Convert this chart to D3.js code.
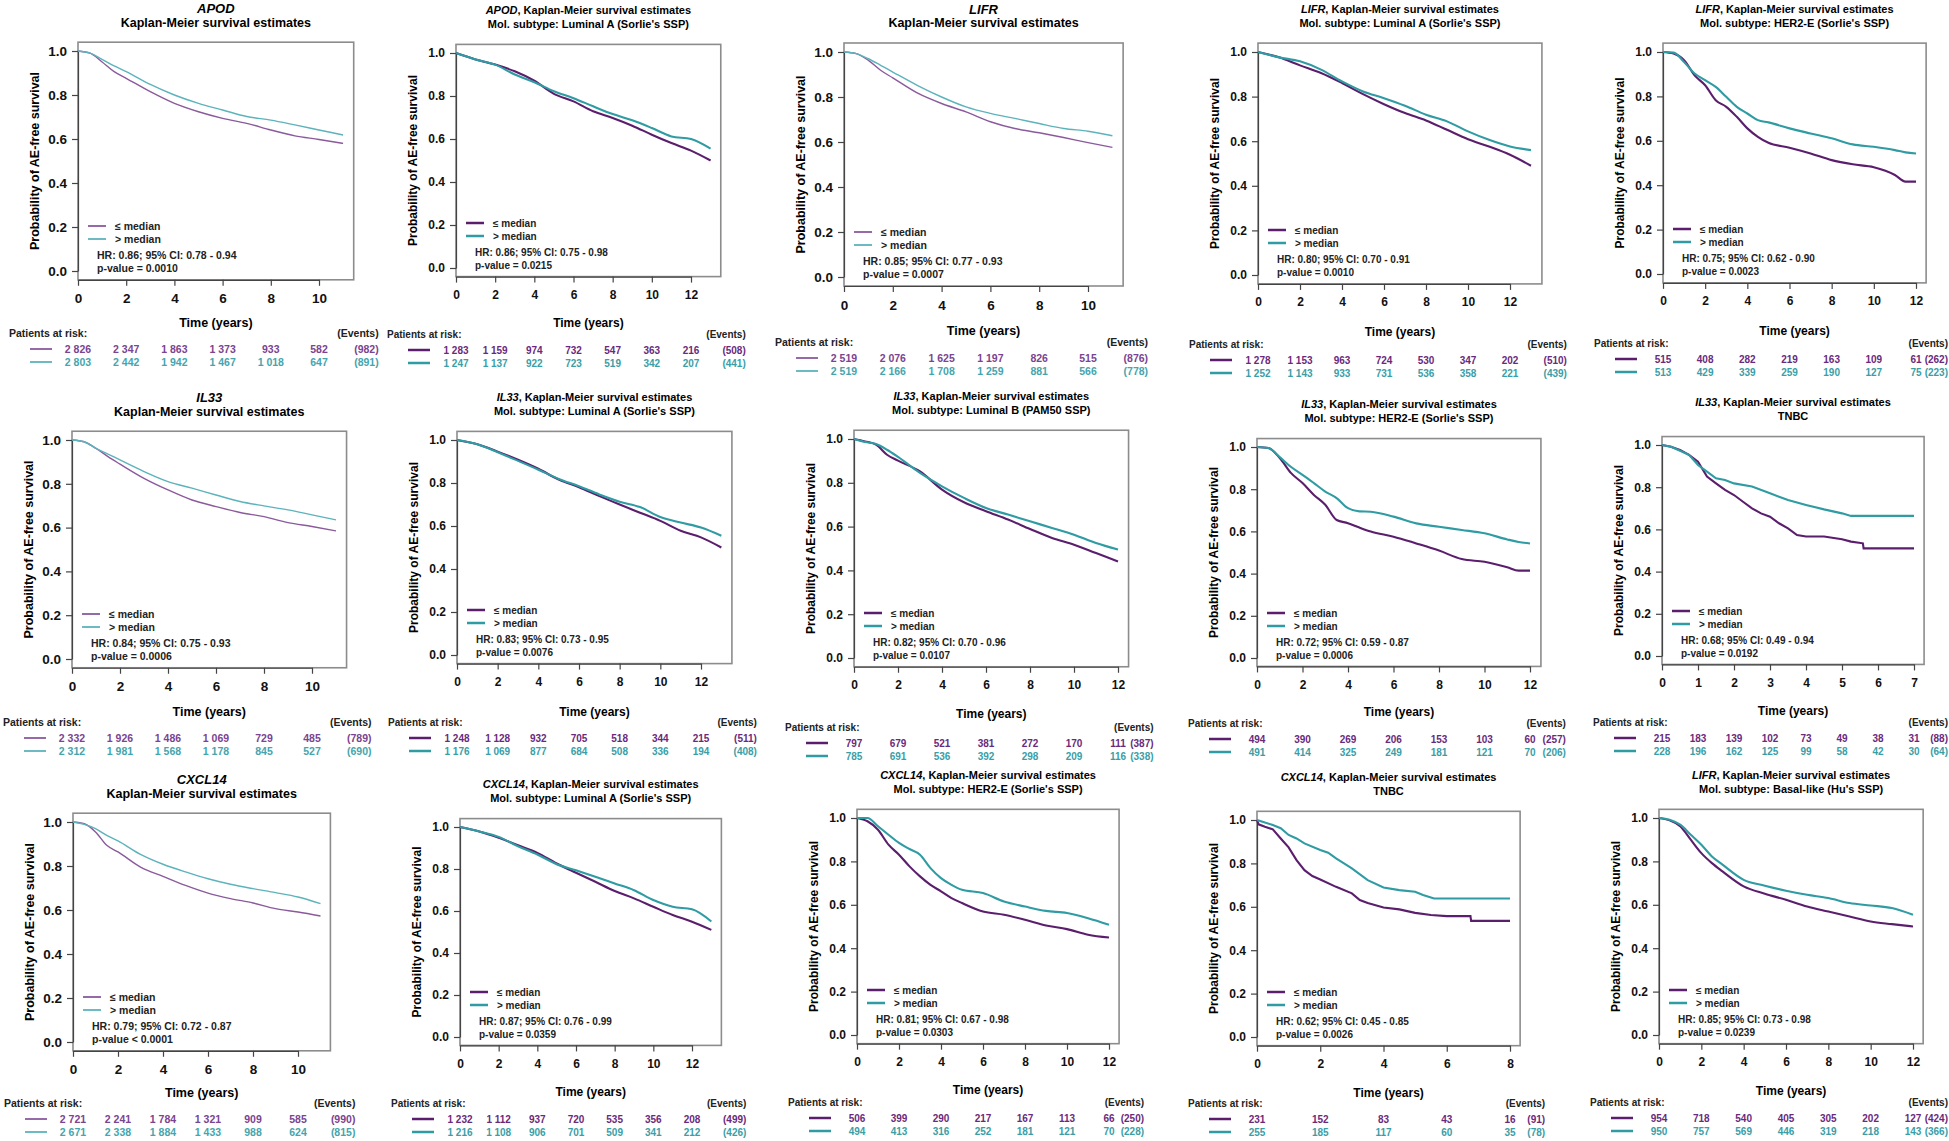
<!DOCTYPE html>
<html>
<head>
<meta charset="utf-8">
<script src="https://cdn.jsdelivr.net/npm/d3@7"></script>
<style>
  body { margin: 0; background: #fff; }
  svg { display: block; }
</style>
</head>
<body>
<script>
// -------------------- DATA --------------------
// survival curves: time (years), <= median (lo), > median (hi)
var apodAllT  = [0, 0.5, 1, 1.5, 2, 3, 4, 5, 6, 7, 8, 9, 10, 11];
var apodAllLo = [1, 0.99, 0.95, 0.906, 0.876, 0.815, 0.762, 0.724, 0.694, 0.671, 0.641, 0.614, 0.598, 0.58];
var apodAllHi = [1, 0.99, 0.962, 0.932, 0.906, 0.848, 0.8, 0.762, 0.732, 0.702, 0.686, 0.664, 0.641, 0.618];

var apodLumAT  = [0, 1, 2, 3, 4, 5, 6, 7, 8, 9, 10, 11, 12, 13];
var apodLumALo = [1, 0.97, 0.946, 0.915, 0.871, 0.81, 0.775, 0.729, 0.698, 0.662, 0.62, 0.581, 0.546, 0.5];
var apodLumAHi = [1, 0.97, 0.946, 0.9, 0.864, 0.822, 0.79, 0.752, 0.716, 0.687, 0.651, 0.612, 0.6, 0.555];

var lifrAllT  = [0, 0.5, 1, 1.5, 2, 3, 4, 5, 6, 7, 8, 9, 10, 11];
var lifrAllLo = [1, 0.993, 0.963, 0.919, 0.885, 0.818, 0.771, 0.734, 0.69, 0.66, 0.641, 0.62, 0.597, 0.576];
var lifrAllHi = [1, 0.993, 0.97, 0.941, 0.911, 0.852, 0.8, 0.756, 0.727, 0.705, 0.682, 0.66, 0.648, 0.628];

var lifrLumAT  = [0, 1, 2, 3, 4, 5, 6, 7, 8, 9, 10, 11, 12, 13];
var lifrLumALo = [1, 0.976, 0.94, 0.906, 0.861, 0.811, 0.766, 0.726, 0.693, 0.651, 0.609, 0.576, 0.539, 0.49];
var lifrLumAHi = [1, 0.976, 0.958, 0.921, 0.868, 0.823, 0.793, 0.759, 0.719, 0.689, 0.644, 0.606, 0.576, 0.56];

var lifrHer2T  = [0, 0.5, 1, 1.5, 2, 2.5, 3, 3.5, 4, 4.5, 5, 6, 7, 8, 9, 10, 11, 11.5, 12];
var lifrHer2Lo = [1, 0.993, 0.963, 0.895, 0.85, 0.783, 0.753, 0.708, 0.656, 0.618, 0.591, 0.569, 0.543, 0.513, 0.494, 0.481, 0.446, 0.416, 0.416];
var lifrHer2Hi = [1, 0.997, 0.955, 0.903, 0.873, 0.843, 0.798, 0.753, 0.723, 0.693, 0.683, 0.656, 0.633, 0.611, 0.584, 0.573, 0.558, 0.548, 0.543];

var il33AllT  = [0, 0.5, 1, 1.5, 2, 3, 4, 5, 6, 7, 8, 9, 10, 11];
var il33AllLo = [1, 0.992, 0.962, 0.924, 0.89, 0.825, 0.772, 0.726, 0.696, 0.669, 0.65, 0.623, 0.605, 0.585];
var il33AllHi = [1, 0.992, 0.962, 0.936, 0.909, 0.856, 0.81, 0.78, 0.749, 0.719, 0.699, 0.681, 0.658, 0.635];

var il33LumAT  = [0, 1, 2, 3, 4, 5, 6, 7, 8, 9, 10, 11, 12, 13];
var il33LumALo = [1, 0.98, 0.946, 0.908, 0.866, 0.816, 0.78, 0.739, 0.7, 0.662, 0.624, 0.578, 0.547, 0.5];
var il33LumAHi = [1, 0.98, 0.943, 0.903, 0.862, 0.819, 0.785, 0.747, 0.713, 0.688, 0.642, 0.616, 0.593, 0.555];

var il33LumBT  = [0, 0.5, 1, 1.5, 2, 3, 4, 5, 6, 7, 8, 9, 10, 11, 12];
var il33LumBLo = [1, 0.989, 0.974, 0.928, 0.901, 0.852, 0.769, 0.711, 0.67, 0.632, 0.589, 0.548, 0.517, 0.479, 0.441];
var il33LumBHi = [1, 0.986, 0.977, 0.951, 0.918, 0.845, 0.784, 0.731, 0.685, 0.655, 0.624, 0.594, 0.563, 0.525, 0.495];

var il33Her2T  = [0, 0.5, 1, 1.5, 2, 2.5, 3, 3.5, 4, 4.5, 5, 6, 7, 8, 9, 10, 11, 11.5, 12];
var il33Her2Lo = [1, 0.995, 0.948, 0.876, 0.829, 0.773, 0.726, 0.654, 0.639, 0.618, 0.599, 0.575, 0.543, 0.509, 0.469, 0.456, 0.43, 0.414, 0.414];
var il33Her2Hi = [1, 0.995, 0.952, 0.905, 0.868, 0.829, 0.789, 0.758, 0.71, 0.695, 0.693, 0.67, 0.638, 0.622, 0.607, 0.591, 0.562, 0.55, 0.543];

var il33TnbcLoT = [0, 0.25, 0.5, 0.75, 1, 1.25, 1.5, 1.75, 2, 2.25, 2.5, 2.75, 3, 3.25, 3.5, 3.75, 4, 4.5, 5, 5.25, 5.58, 5.6, 7];
var il33TnbcLo  = [1, 0.992, 0.976, 0.953, 0.921, 0.85, 0.818, 0.787, 0.763, 0.731, 0.7, 0.676, 0.66, 0.629, 0.605, 0.573, 0.566, 0.566, 0.553, 0.542, 0.534, 0.51, 0.51];
var il33TnbcHiT = [0, 0.25, 0.5, 0.75, 1, 1.25, 1.5, 1.75, 2, 2.5, 3, 3.5, 4, 4.5, 5, 5.25, 7];
var il33TnbcHi  = [1, 0.992, 0.973, 0.953, 0.905, 0.874, 0.842, 0.834, 0.818, 0.803, 0.771, 0.739, 0.716, 0.695, 0.676, 0.664, 0.664];

var cxclAllT  = [0, 0.5, 1, 1.5, 2, 3, 4, 5, 6, 7, 8, 9, 10, 11];
var cxclAllLo = [1, 0.992, 0.955, 0.894, 0.864, 0.795, 0.753, 0.712, 0.677, 0.652, 0.632, 0.606, 0.591, 0.573];
var cxclAllHi = [1, 0.989, 0.97, 0.939, 0.914, 0.853, 0.808, 0.773, 0.742, 0.717, 0.697, 0.679, 0.659, 0.629];

var cxclLumAT  = [0, 1, 2, 3, 4, 5, 6, 7, 8, 9, 10, 11, 12, 13];
var cxclLumALo = [1, 0.979, 0.949, 0.913, 0.877, 0.826, 0.782, 0.739, 0.695, 0.66, 0.62, 0.581, 0.549, 0.51];
var cxclLumAHi = [1, 0.979, 0.953, 0.908, 0.869, 0.823, 0.794, 0.763, 0.731, 0.699, 0.652, 0.62, 0.608, 0.55];

var cxclHer2T  = [0, 0.5, 1, 1.5, 2, 2.5, 3, 3.5, 4, 4.5, 5, 6, 7, 8, 9, 10, 11, 12];
var cxclHer2Lo = [1, 0.985, 0.946, 0.877, 0.831, 0.777, 0.731, 0.692, 0.662, 0.631, 0.608, 0.569, 0.554, 0.531, 0.505, 0.488, 0.462, 0.449];
var cxclHer2Hi = [1, 1, 0.962, 0.923, 0.885, 0.857, 0.831, 0.769, 0.723, 0.692, 0.669, 0.654, 0.615, 0.592, 0.572, 0.562, 0.538, 0.508];

var cxclTnbcLoT = [0, 0.05, 0.25, 0.5, 0.75, 1, 1.25, 1.5, 1.75, 2, 2.5, 3, 3.25, 3.5, 4, 4.5, 5, 5.5, 6, 6.75, 6.77, 8];
var cxclTnbcLo  = [1, 0.98, 0.969, 0.957, 0.915, 0.874, 0.815, 0.769, 0.742, 0.726, 0.692, 0.662, 0.631, 0.618, 0.597, 0.588, 0.572, 0.562, 0.557, 0.557, 0.535, 0.535];
var cxclTnbcHiT = [0, 0.25, 0.5, 0.75, 1, 1.25, 1.5, 2, 2.25, 2.5, 3, 3.5, 4, 4.5, 5, 5.25, 5.6, 8];
var cxclTnbcHi  = [1, 0.988, 0.977, 0.962, 0.931, 0.915, 0.892, 0.862, 0.849, 0.823, 0.777, 0.723, 0.689, 0.677, 0.669, 0.654, 0.638, 0.638];

var lifrBasalT  = [0, 0.5, 1, 1.5, 2, 2.5, 3, 4, 5, 6, 7, 8, 9, 10, 11, 12];
var lifrBasalLo = [1, 0.989, 0.962, 0.9, 0.838, 0.792, 0.754, 0.685, 0.651, 0.623, 0.592, 0.569, 0.546, 0.523, 0.511, 0.5];
var lifrBasalHi = [1, 0.992, 0.969, 0.923, 0.877, 0.823, 0.785, 0.715, 0.688, 0.665, 0.646, 0.631, 0.608, 0.597, 0.585, 0.554];

// patients at risk (at each x tick) and events
var apodAllRiskLo = [2826, 2347, 1863, 1373, 933, 582],  apodAllRiskHi = [2803, 2442, 1942, 1467, 1018, 647];
var apodAllEv = [982, 891];
var apodLumARiskLo = [1283, 1159, 974, 732, 547, 363, 216], apodLumARiskHi = [1247, 1137, 922, 723, 519, 342, 207];
var apodLumAEv = [508, 441];
var lifrAllRiskLo = [2519, 2076, 1625, 1197, 826, 515], lifrAllRiskHi = [2519, 2166, 1708, 1259, 881, 566];
var lifrAllEv = [876, 778];
var lifrLumARiskLo = [1278, 1153, 963, 724, 530, 347, 202], lifrLumARiskHi = [1252, 1143, 933, 731, 536, 358, 221];
var lifrLumAEv = [510, 439];
var lifrHer2RiskLo = [515, 408, 282, 219, 163, 109, 61], lifrHer2RiskHi = [513, 429, 339, 259, 190, 127, 75];
var lifrHer2Ev = [262, 223];
var il33AllRiskLo = [2332, 1926, 1486, 1069, 729, 485], il33AllRiskHi = [2312, 1981, 1568, 1178, 845, 527];
var il33AllEv = [789, 690];
var il33LumARiskLo = [1248, 1128, 932, 705, 518, 344, 215], il33LumARiskHi = [1176, 1069, 877, 684, 508, 336, 194];
var il33LumAEv = [511, 408];
var il33LumBRiskLo = [797, 679, 521, 381, 272, 170, 111], il33LumBRiskHi = [785, 691, 536, 392, 298, 209, 116];
var il33LumBEv = [387, 338];
var il33Her2RiskLo = [494, 390, 269, 206, 153, 103, 60], il33Her2RiskHi = [491, 414, 325, 249, 181, 121, 70];
var il33Her2Ev = [257, 206];
var il33TnbcRiskLo = [215, 183, 139, 102, 73, 49, 38, 31], il33TnbcRiskHi = [228, 196, 162, 125, 99, 58, 42, 30];
var il33TnbcEv = [88, 64];
var cxclAllRiskLo = [2721, 2241, 1784, 1321, 909, 585], cxclAllRiskHi = [2671, 2338, 1884, 1433, 988, 624];
var cxclAllEv = [990, 815];
var cxclLumARiskLo = [1232, 1112, 937, 720, 535, 356, 208], cxclLumARiskHi = [1216, 1108, 906, 701, 509, 341, 212];
var cxclLumAEv = [499, 426];
var cxclHer2RiskLo = [506, 399, 290, 217, 167, 113, 66], cxclHer2RiskHi = [494, 413, 316, 252, 181, 121, 70];
var cxclHer2Ev = [250, 228];
var cxclTnbcRiskLo = [231, 152, 83, 43, 16], cxclTnbcRiskHi = [255, 185, 117, 60, 35];
var cxclTnbcEv = [91, 78];
var lifrBasalRiskLo = [954, 718, 540, 405, 305, 202, 127], lifrBasalRiskHi = [950, 757, 569, 446, 319, 218, 143];
var lifrBasalEv = [424, 366];

// titles and statistics
var genes = ["APOD", "APOD", "LIFR", "LIFR", "LIFR",
             "IL33", "IL33", "IL33", "IL33", "IL33",
             "CXCL14", "CXCL14", "CXCL14", "CXCL14", "LIFR"];
var subtypes = [null, "Mol. subtype: Luminal A (Sorlie's SSP)", null,
                "Mol. subtype: Luminal A (Sorlie's SSP)", "Mol. subtype: HER2-E (Sorlie's SSP)",
                null, "Mol. subtype: Luminal A (Sorlie's SSP)", "Mol. subtype: Luminal B (PAM50 SSP)",
                "Mol. subtype: HER2-E (Sorlie's SSP)", "TNBC",
                null, "Mol. subtype: Luminal A (Sorlie's SSP)", "Mol. subtype: HER2-E (Sorlie's SSP)",
                "TNBC", "Mol. subtype: Basal-like (Hu's SSP)"];
var hrTexts = ["HR: 0.86; 95% CI: 0.78 - 0.94", "HR: 0.86; 95% CI: 0.75 - 0.98", "HR: 0.85; 95% CI: 0.77 - 0.93",
               "HR: 0.80; 95% CI: 0.70 - 0.91", "HR: 0.75; 95% CI: 0.62 - 0.90",
               "HR: 0.84; 95% CI: 0.75 - 0.93", "HR: 0.83; 95% CI: 0.73 - 0.95", "HR: 0.82; 95% CI: 0.70 - 0.96",
               "HR: 0.72; 95% CI: 0.59 - 0.87", "HR: 0.68; 95% CI: 0.49 - 0.94",
               "HR: 0.79; 95% CI: 0.72 - 0.87", "HR: 0.87; 95% CI: 0.76 - 0.99", "HR: 0.81; 95% CI: 0.67 - 0.98",
               "HR: 0.62; 95% CI: 0.45 - 0.85", "HR: 0.85; 95% CI: 0.73 - 0.98"];
var pTexts = ["p-value = 0.0010", "p-value = 0.0215", "p-value = 0.0007", "p-value = 0.0010", "p-value = 0.0023",
              "p-value = 0.0006", "p-value = 0.0076", "p-value = 0.0107", "p-value = 0.0006", "p-value = 0.0192",
              "p-value < 0.0001", "p-value = 0.0359", "p-value = 0.0303", "p-value = 0.0026", "p-value = 0.0239"];
var legendLabels = ["\u2264 median", "> median"];

// -------------------- PANELS (data per panel) --------------------
function pairs(t, v) { return t.map(function(d, i) { return [d, v[i]]; }); }

var panels = [
  { lo: pairs(apodAllT, apodAllLo),   hi: pairs(apodAllT, apodAllHi),   rLo: apodAllRiskLo,   rHi: apodAllRiskHi,   ev: apodAllEv },
  { lo: pairs(apodLumAT, apodLumALo), hi: pairs(apodLumAT, apodLumAHi), rLo: apodLumARiskLo,  rHi: apodLumARiskHi,  ev: apodLumAEv },
  { lo: pairs(lifrAllT, lifrAllLo),   hi: pairs(lifrAllT, lifrAllHi),   rLo: lifrAllRiskLo,   rHi: lifrAllRiskHi,   ev: lifrAllEv },
  { lo: pairs(lifrLumAT, lifrLumALo), hi: pairs(lifrLumAT, lifrLumAHi), rLo: lifrLumARiskLo,  rHi: lifrLumARiskHi,  ev: lifrLumAEv },
  { lo: pairs(lifrHer2T, lifrHer2Lo), hi: pairs(lifrHer2T, lifrHer2Hi), rLo: lifrHer2RiskLo,  rHi: lifrHer2RiskHi,  ev: lifrHer2Ev },
  { lo: pairs(il33AllT, il33AllLo),   hi: pairs(il33AllT, il33AllHi),   rLo: il33AllRiskLo,   rHi: il33AllRiskHi,   ev: il33AllEv },
  { lo: pairs(il33LumAT, il33LumALo), hi: pairs(il33LumAT, il33LumAHi), rLo: il33LumARiskLo,  rHi: il33LumARiskHi,  ev: il33LumAEv },
  { lo: pairs(il33LumBT, il33LumBLo), hi: pairs(il33LumBT, il33LumBHi), rLo: il33LumBRiskLo,  rHi: il33LumBRiskHi,  ev: il33LumBEv },
  { lo: pairs(il33Her2T, il33Her2Lo), hi: pairs(il33Her2T, il33Her2Hi), rLo: il33Her2RiskLo,  rHi: il33Her2RiskHi,  ev: il33Her2Ev },
  { lo: pairs(il33TnbcLoT, il33TnbcLo), hi: pairs(il33TnbcHiT, il33TnbcHi), rLo: il33TnbcRiskLo, rHi: il33TnbcRiskHi, ev: il33TnbcEv },
  { lo: pairs(cxclAllT, cxclAllLo),   hi: pairs(cxclAllT, cxclAllHi),   rLo: cxclAllRiskLo,   rHi: cxclAllRiskHi,   ev: cxclAllEv },
  { lo: pairs(cxclLumAT, cxclLumALo), hi: pairs(cxclLumAT, cxclLumAHi), rLo: cxclLumARiskLo,  rHi: cxclLumARiskHi,  ev: cxclLumAEv },
  { lo: pairs(cxclHer2T, cxclHer2Lo), hi: pairs(cxclHer2T, cxclHer2Hi), rLo: cxclHer2RiskLo,  rHi: cxclHer2RiskHi,  ev: cxclHer2Ev },
  { lo: pairs(cxclTnbcLoT, cxclTnbcLo), hi: pairs(cxclTnbcHiT, cxclTnbcHi), rLo: cxclTnbcRiskLo, rHi: cxclTnbcRiskHi, ev: cxclTnbcEv },
  { lo: pairs(lifrBasalT, lifrBasalLo), hi: pairs(lifrBasalT, lifrBasalHi), rLo: lifrBasalRiskLo, rHi: lifrBasalRiskHi, ev: lifrBasalEv }
];

// -------------------- LAYOUT (pixel frame of each panel) --------------------
// x0: pixel of t=0, tickMax/tickPx: last tick and its pixel, y1/y0: pixels of 1.0 and 0.0
var frames = [
  { x0: 78,   tickMax: 10, tickPx: 319,  y1: 51,  y0: 271,  tEnd: 11, step: 2, labY: 323,  riskY: 333 },
  { x0: 456,  tickMax: 12, tickPx: 691,  y1: 53,  y0: 268,  tEnd: 13, step: 2, labY: 323,  riskY: 334 },
  { x0: 844,  tickMax: 10, tickPx: 1088, y1: 52,  y0: 277,  tEnd: 11, step: 2, labY: 331,  riskY: 342 },
  { x0: 1258, tickMax: 12, tickPx: 1510, y1: 52,  y0: 275,  tEnd: 13, step: 2, labY: 332,  riskY: 344 },
  { x0: 1663, tickMax: 12, tickPx: 1916, y1: 52,  y0: 274,  tEnd: 12, step: 2, labY: 331,  riskY: 343 },
  { x0: 72,   tickMax: 10, tickPx: 312,  y1: 440, y0: 659,  tEnd: 11, step: 2, labY: 712,  riskY: 722 },
  { x0: 457,  tickMax: 12, tickPx: 701,  y1: 440, y0: 655,  tEnd: 13, step: 2, labY: 712,  riskY: 722 },
  { x0: 854,  tickMax: 12, tickPx: 1118, y1: 439, y0: 658,  tEnd: 12, step: 2, labY: 714,  riskY: 727 },
  { x0: 1257, tickMax: 12, tickPx: 1530, y1: 447, y0: 658,  tEnd: 12, step: 2, labY: 712,  riskY: 723 },
  { x0: 1662, tickMax: 7,  tickPx: 1914, y1: 445, y0: 656,  tEnd: 7,  step: 1, labY: 711,  riskY: 722 },
  { x0: 73,   tickMax: 10, tickPx: 298,  y1: 822, y0: 1042, tEnd: 11, step: 2, labY: 1093, riskY: 1103 },
  { x0: 460,  tickMax: 12, tickPx: 692,  y1: 827, y0: 1037, tEnd: 13, step: 2, labY: 1092, riskY: 1103 },
  { x0: 857,  tickMax: 12, tickPx: 1109, y1: 818, y0: 1035, tEnd: 12, step: 2, labY: 1090, riskY: 1102 },
  { x0: 1257, tickMax: 8,  tickPx: 1510, y1: 820, y0: 1037, tEnd: 8,  step: 2, labY: 1093, riskY: 1103 },
  { x0: 1659, tickMax: 12, tickPx: 1913, y1: 818, y0: 1035, tEnd: 12, step: 2, labY: 1091, riskY: 1102 }
];

// two looks: the pooled "overall" plots and the subtype plots
var styles = {
  overall: { lo: "#8a5a9c", hi: "#5db3bb", tLo: "#7a4490", tHi: "#45a5ae", lw: 1.4,
             title: 13, title2: 12.5, tick: 13.5, axis: 12.5, small: 10.5 },
  subtype: { lo: "#5a1e6c", hi: "#2f9ba3", tLo: "#6a2a7c", tHi: "#3a9ea7", lw: 2.1,
             title: 11, title2: 11, tick: 12, axis: 12, small: 10 }
};

var FONT = "'Liberation Sans', Arial, sans-serif";
var W = 1949, H = 1141;

var svg = d3.select("body").append("svg")
  .attr("width", W).attr("height", H)
  .attr("font-family", FONT).attr("font-weight", "bold");

function fmt(n) { return d3.format(",")(n).replace(/,/g, " "); }

function drawPanel(p, f, i) {
  var st = subtypes[i] ? styles.subtype : styles.overall;
  var x = d3.scaleLinear().domain([0, f.tickMax]).range([f.x0, f.tickPx]);
  var y = d3.scaleLinear().domain([0, 1]).range([f.y0, f.y1]);
  var L = x(0), R = x(f.tEnd * 1.04), T = y(1.04), B = y(-0.04);
  var evX = Math.min(R + 25, W - 1);
  var g = svg.append("g");

  // title
  var cx = (L + R) / 2;
  var t1 = g.append("text").attr("x", cx).attr("y", T - 34).attr("text-anchor", "middle")
    .attr("dy", "0.35em").attr("font-size", st.title);
  t1.append("tspan").attr("font-style", "italic").text(genes[i]);
  if (subtypes[i]) {
    t1.append("tspan").text(", Kaplan-Meier survival estimates");
    g.append("text").attr("x", cx).attr("y", T - 20).attr("dy", "0.35em")
      .attr("text-anchor", "middle").attr("font-size", st.title2).text(subtypes[i]);
  } else {
    g.append("text").attr("x", cx).attr("y", T - 20).attr("dy", "0.35em")
      .attr("text-anchor", "middle").attr("font-size", st.title2).text("Kaplan-Meier survival estimates");
  }

  // frame
  g.append("rect").attr("x", L).attr("y", T).attr("width", R - L).attr("height", B - T)
    .attr("fill", "none").attr("stroke", "#8c8c8c").attr("stroke-width", 1.6);

  // axes
  var xa = g.append("g").attr("transform", "translate(0," + B + ")")
    .call(d3.axisBottom(x).tickValues(d3.range(0, f.tickMax + 0.001, f.step))
      .tickFormat(d3.format("d")).tickSize(6).tickSizeOuter(0).tickPadding(8));
  var ya = g.append("g").attr("transform", "translate(" + L + ",0)")
    .call(d3.axisLeft(y).tickValues([0, 0.2, 0.4, 0.6, 0.8, 1])
      .tickFormat(d3.format(".1f")).tickSize(6).tickSizeOuter(0).tickPadding(5));
  [xa, ya].forEach(function(a) {
    a.attr("font-family", FONT).attr("font-weight", "bold").attr("font-size", st.tick);
    a.selectAll("path, line").attr("stroke", "#444").attr("stroke-width", 1.2);
    a.selectAll("text").attr("fill", "#111");
  });

  // axis titles
  g.append("text").attr("x", cx).attr("y", f.labY).attr("dy", "0.35em")
    .attr("text-anchor", "middle").attr("font-size", st.axis).text("Time (years)");
  g.append("text").attr("transform", "translate(" + (L - 43) + "," + ((f.y0 + f.y1) / 2) + ") rotate(-90)")
    .attr("dy", "0.35em").attr("text-anchor", "middle").attr("font-size", st.axis)
    .text("Probability of AE-free survival");

  // curves
  var smooth = f.tickMax > 8 ? d3.curveMonotoneX : d3.curveLinear;
  var line = d3.line().x(function(d) { return x(d[0]); }).y(function(d) { return y(d[1]); }).curve(smooth);
  g.append("path").attr("d", line(p.lo)).attr("fill", "none").attr("stroke", st.lo).attr("stroke-width", st.lw);
  g.append("path").attr("d", line(p.hi)).attr("fill", "none").attr("stroke", st.hi).attr("stroke-width", st.lw);

  // legend + statistics
  [st.lo, st.hi].forEach(function(c, k) {
    var ly = f.y0 - 45 + k * 13;
    g.append("line").attr("x1", L + 10).attr("x2", L + 28).attr("y1", ly).attr("y2", ly)
      .attr("stroke", c).attr("stroke-width", st.lw + 0.4);
    g.append("text").attr("x", L + 37).attr("y", ly).attr("dy", "0.35em")
      .attr("font-size", st.small).attr("fill", "#222").text(legendLabels[k]);
  });
  g.append("text").attr("x", L + 19).attr("y", f.y0 - 16).attr("dy", "0.35em")
    .attr("font-size", st.small).attr("fill", "#222").text(hrTexts[i]);
  g.append("text").attr("x", L + 19).attr("y", f.y0 - 3).attr("dy", "0.35em")
    .attr("font-size", st.small).attr("fill", "#222").text(pTexts[i]);

  // patients at risk
  var ticks = d3.range(0, f.tickMax + 0.001, f.step);
  g.append("text").attr("x", L - 69).attr("y", f.riskY).attr("dy", "0.35em")
    .attr("font-size", st.small).attr("fill", "#222").text("Patients at risk:");
  g.append("text").attr("x", evX).attr("y", f.riskY).attr("dy", "0.35em").attr("text-anchor", "end")
    .attr("font-size", st.small).attr("fill", "#222").text("(Events)");
  [[p.rLo, st.lo, st.tLo], [p.rHi, st.hi, st.tHi]].forEach(function(row, k) {
    var ry = f.riskY + 16 + k * 13;
    g.append("line").attr("x1", L - 48).attr("x2", L - 26).attr("y1", ry).attr("y2", ry)
      .attr("stroke", row[1]).attr("stroke-width", st.lw + 0.4);
    g.selectAll(null).data(row[0]).enter().append("text")
      .attr("x", function(d, j) { return x(ticks[j]); }).attr("y", ry).attr("dy", "0.35em")
      .attr("text-anchor", "middle").attr("font-size", st.small).attr("fill", row[2])
      .text(function(d) { return fmt(d); });
    g.append("text").attr("x", evX).attr("y", ry).attr("dy", "0.35em").attr("text-anchor", "end")
      .attr("font-size", st.small).attr("fill", row[2]).text("(" + p.ev[k] + ")");
  });
}

panels.forEach(function(p, i) { drawPanel(p, frames[i], i); });
</script>
</body>
</html>
